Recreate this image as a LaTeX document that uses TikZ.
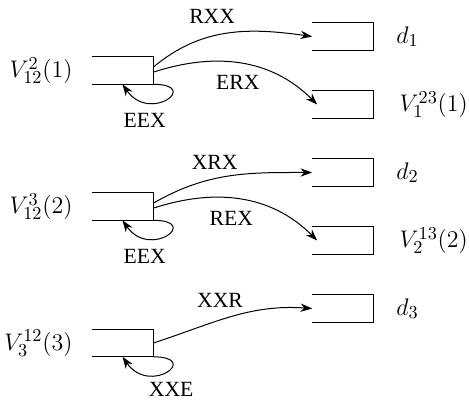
\documentclass[tikz,border=0pt]{standalone}
\usepackage{fontspec}
\usetikzlibrary{arrows.meta,positioning}
\newfontfamily\edgefont{Liberation Serif}

\tikzset{
  slot/.style={rectangle,inner sep=0pt,minimum width=36.6pt,minimum height=16.2pt},
  arr/.style={-{Stealth[length=7pt,width=5pt]},line width=0.6pt},
  mlbl/.style={font=\fontsize{15}{17}\selectfont},
  elbl/.style={font=\edgefont\fontsize{13}{15}\selectfont},
}

\begin{document}
\begin{tikzpicture}[x=0.6pt,y=-0.6pt]
    \useasboundingbox (0,0) rectangle (469,401);

    % left slots
    \node[slot] (s1) at (122.5,70.5) {};
    \node[slot] (s2) at (122.5,206.5) {};
    \node[slot] (s3) at (122.5,343) {};
    % right slots
    \node[slot] (d1) at (343,36.5) {};
    \node[slot] (v1) at (343,104.5) {};
    \node[slot] (d2) at (343,172.5) {};
    \node[slot] (v2) at (343,240.5) {};
    \node[slot] (d3) at (343,308.5) {};

    \foreach \n in {s1,s2,s3,d1,v1,d2,v2,d3}
        \draw [line width=0.6pt] (\n.north west)--(\n.north east)--(\n.south east)--(\n.south west);

    \node[mlbl,left=8pt of s1] (ls1) {$V_{12}^{2}(1)$};
    \node[mlbl,left=8pt of s2] (ls2) {$V_{12}^{3}(2)$};
    \node[mlbl,left=8pt of s3] (ls3) {$V_{3}^{12}(3)$};
    \node[mlbl,right=10pt of d1] (ld1) {$d_1$};
    \node[mlbl,right=12pt of v1] (lv1) {$V_{1}^{23}(1)$};
    \node[mlbl,right=10pt of d2] (ld2) {$d_2$};
    \node[mlbl,right=12pt of v2] (lv2) {$V_{2}^{13}(2)$};
    \node[mlbl,right=10pt of d3] (ld3) {$d_3$};

    % first group
    \draw [arr] ([yshift=2pt]s1.east) to[out=40,in=172] node[elbl,pos=.4,above=4pt] {RXX} (d1.west);
    \draw [arr] ([yshift=-1pt]s1.east) to[out=18,in=135] node[elbl,pos=.48,below=4pt] {ERX} ([xshift=3pt]v1.west);
    \draw [arr] (s1.south east) to[out=0,in=-55,looseness=4] node[elbl,pos=.76,below=4pt] {EEX} (s1.south);

    % second group
    \draw [arr] ([yshift=2pt]s2.east) to[out=30,in=180] node[elbl,pos=.4,above=2pt] {XRX} (d2.west);
    \draw [arr] ([yshift=-1pt]s2.east) to[out=18,in=135] node[elbl,pos=.44,below=4pt] {REX} ([xshift=3pt]v2.west);
    \draw [arr] (s2.south east) to[out=0,in=-55,looseness=4] node[elbl,pos=.76,below=4pt] {EEX} (s2.south);

    % third group
    \draw [arr] (s3.east) to[out=18,in=176] node[elbl,pos=.42,above=4pt] {XXR} (d3.west);
    \draw [arr] (s3.south east) to[out=0,in=-55,looseness=4] node[elbl,pos=.4,below=5pt] {XXE} (s3.south);
\end{tikzpicture}
\end{document}
